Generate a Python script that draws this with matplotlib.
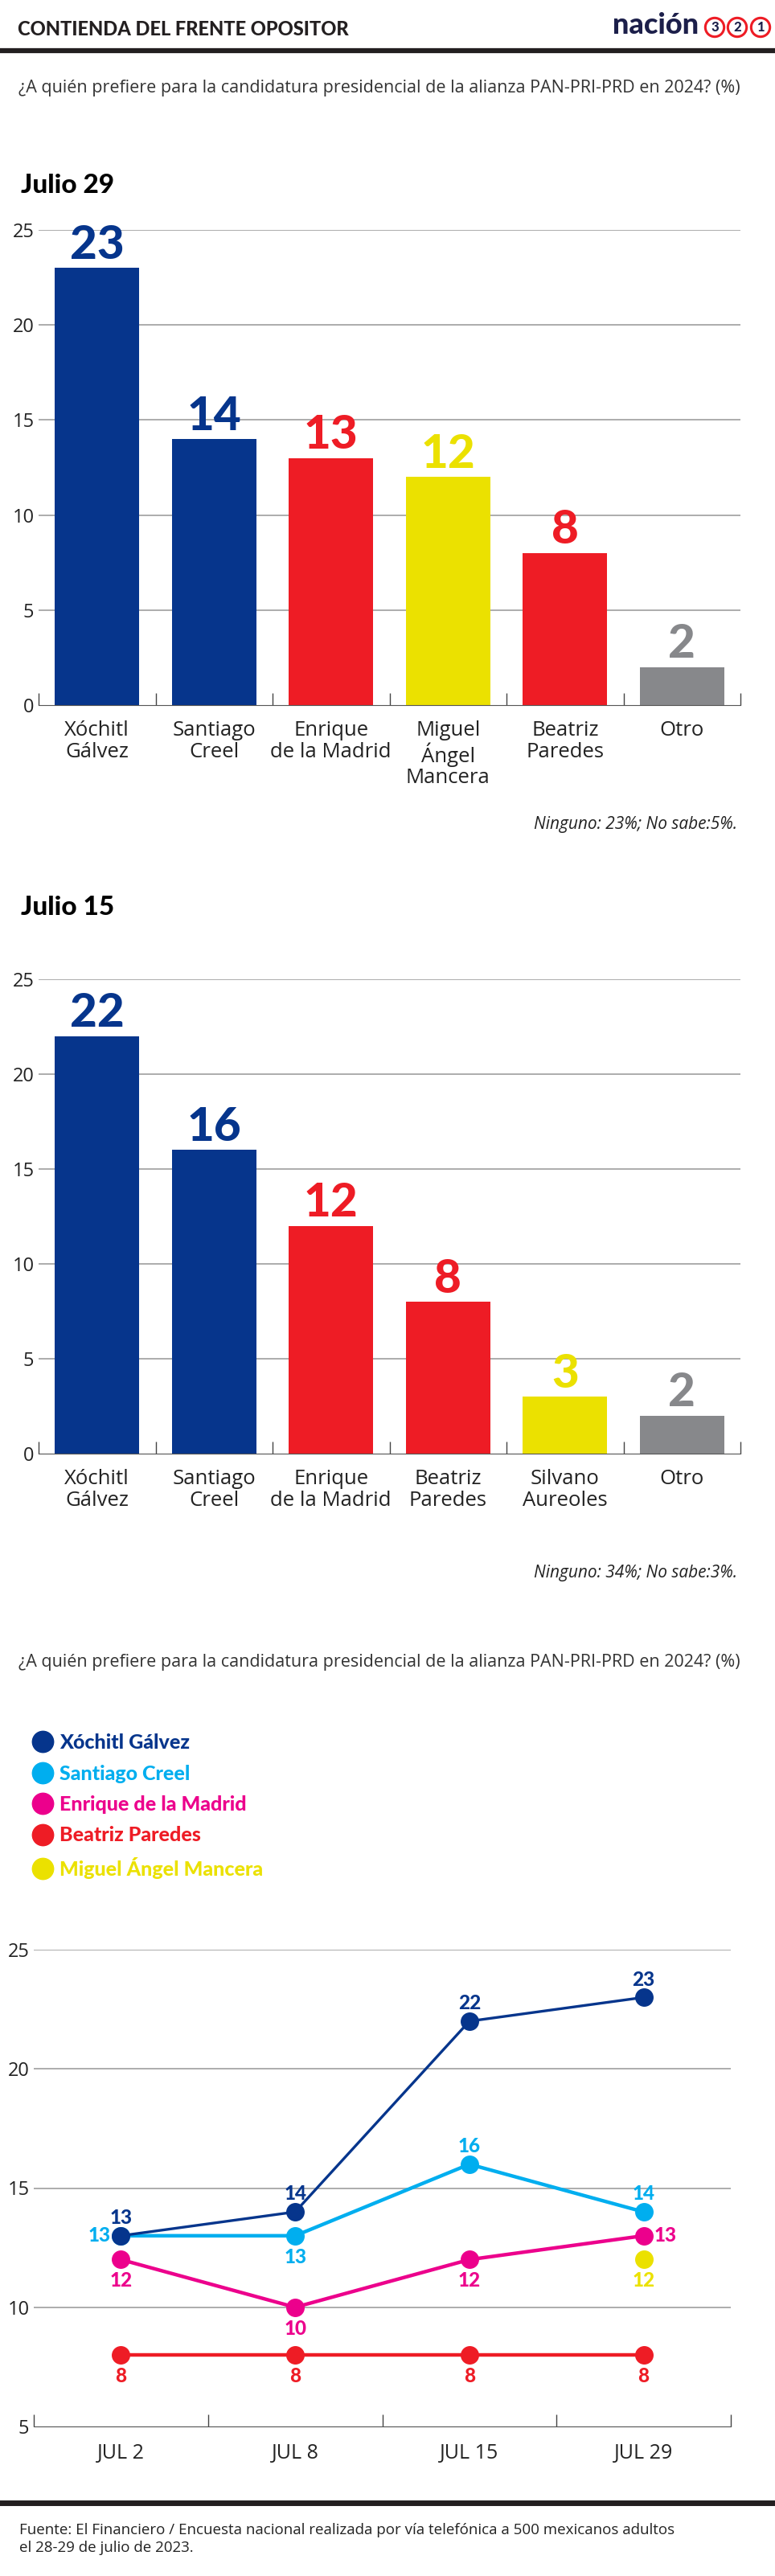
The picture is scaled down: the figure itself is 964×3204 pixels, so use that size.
import numpy as np
import matplotlib
matplotlib.use('Agg')
import matplotlib.pyplot as plt
from matplotlib.lines import Line2D
from matplotlib import font_manager

W, H = 964, 3204

NAVY = '#06358c'
RED = '#ee1c25'
YELLOW = '#ebe100'
GRAY = '#87888b'
SKY = '#00aeef'
PINK = '#ec008c'
INK = '#1c1f4a'

# --- datos ---
pregunta = '¿A quién prefiere para la candidatura presidencial de la alianza PAN-PRI-PRD en 2024? (%)'

j29_nombres = ['Xóchitl\nGálvez', 'Santiago\nCreel', 'Enrique\nde la Madrid',
               'Miguel\nÁngel\nMancera', 'Beatriz\nParedes', 'Otro']
j29_valores = [23, 14, 13, 12, 8, 2]
j29_colores = [NAVY, NAVY, RED, YELLOW, RED, GRAY]

j15_nombres = ['Xóchitl\nGálvez', 'Santiago\nCreel', 'Enrique\nde la Madrid',
               'Beatriz\nParedes', 'Silvano\nAureoles', 'Otro']
j15_valores = [22, 16, 12, 8, 3, 2]
j15_colores = [NAVY, NAVY, RED, RED, YELLOW, GRAY]

fechas = ['JUL 2', 'JUL 8', 'JUL 15', 'JUL 29']
xochitl = [13, 14, 22, 23]
creel = [13, 13, 16, 14]
madrid = [12, 10, 12, 13]
paredes = [8, 8, 8, 8]
mancera = [np.nan, np.nan, np.nan, 12]

plt.rcParams['font.family'] = ['Open Sans', 'DejaVu Sans']


# fuente más gruesa disponible para cifras y títulos
def heavy_font():
    heavy = {800, 900, 'black', 'heavy', 'extra bold', 'ultrabold'}
    for fam in ['Lato', 'Roboto', 'Inter', 'Open Sans']:
        for f in font_manager.fontManager.ttflist:
            if f.name == fam and f.weight in heavy and f.style == 'normal':
                return font_manager.FontProperties(fname=f.fname)
    return font_manager.FontProperties(family='Lato', weight='bold')


HEAVY = heavy_font()

fig = plt.figure(figsize=(W / 100, H / 100), dpi=100)


def px_box(left, top, right, bottom):
    return [left / W, 1 - bottom / H, (right - left) / W, (bottom - top) / H]


def ftext(x, y, s, **kw):
    return fig.text(x / W, 1 - y / H, s, **kw)


def heavy(size):
    fp = HEAVY.copy()
    fp.set_size(size)
    return fp


def hrule(y, lw):
    fig.add_artist(Line2D([0, 1], [1 - y / H] * 2, color='#231f20', lw=lw))


def bar_chart(top, bottom, nombres, valores, colores):
    ax = fig.add_axes(px_box(48, top, 921, bottom))
    x = np.arange(len(valores))
    ax.bar(x, valores, width=0.72, color=colores, zorder=2)
    ax.set_xlim(-0.5, len(valores) - 0.5)
    ax.set_ylim(0, 25)
    ax.set_yticks([0, 5, 10, 15, 20, 25])
    for v in [5, 10, 15, 20, 25]:
        ax.axhline(v, color='#a6a6a6', lw=1.3, zorder=1)
    ax.set_xticks(x)
    ax.set_xticklabels(nombres, fontsize=18.5, linespacing=1.08, color='#222')
    ax.set_xticks(np.arange(len(valores) + 1) - 0.5, minor=True)
    ax.tick_params(axis='x', which='major', length=0, pad=14)
    ax.tick_params(axis='x', which='minor', direction='in', length=10.5, width=1, color='#444')
    ax.tick_params(axis='y', length=0, pad=4, labelsize=17, labelcolor='#222')
    for s in ['top', 'right', 'left']:
        ax.spines[s].set_visible(False)
    ax.spines['bottom'].set_color('#555')
    for xi, v, c in zip(x, valores, colores):
        ax.annotate(str(v), (xi, v), xytext=(0, 1), textcoords='offset points',
                    ha='center', va='bottom', color=c, fontproperties=heavy(42),
                    zorder=3)
    return ax


# --- encabezado ---
ftext(22, 36, 'CONTIENDA DEL FRENTE OPOSITOR', fontproperties=heavy(17),
      color='#231f20', va='center')
ftext(762, 31, 'nación', fontproperties=heavy(26), color=INK, va='center')
for cx, d in zip([889, 917, 946], ['3', '2', '1']):
    ftext(cx, 34, d, fontproperties=heavy(12), color=INK, ha='center', va='center',
          bbox=dict(boxstyle='circle,pad=0.22', fc='white', ec=RED, lw=2.2))
hrule(63, 4.5)

ftext(23, 110, pregunta, fontsize=15.5, color='#333', va='center')

# --- Julio 29 ---
ftext(26, 230, 'Julio 29', fontproperties=heavy(24), color='black', va='center')
bar_chart(286, 877, j29_nombres, j29_valores, j29_colores)
ftext(917, 1025, 'Ninguno: 23%; No sabe:5%.', fontsize=15, style='italic',
      color='#222', ha='right', va='center')

# --- Julio 15 ---
ftext(26, 1128, 'Julio 15', fontproperties=heavy(24), color='black', va='center')
bar_chart(1218, 1808, j15_nombres, j15_valores, j15_colores)
ftext(917, 1956, 'Ninguno: 34%; No sabe:3%.', fontsize=15, style='italic',
      color='#222', ha='right', va='center')

# --- tendencia ---
ftext(23, 2067, pregunta, fontsize=15.5, color='#333', va='center')

ax = fig.add_axes(px_box(42, 2425, 909, 3018))
xs = np.arange(len(fechas))
series = [
    ('Beatriz Paredes', paredes, RED, ['below'] * 4),
    ('Enrique de la Madrid', madrid, PINK, ['below', 'below', 'below', 'right']),
    ('Santiago Creel', creel, SKY, ['left', 'below', 'above', 'above']),
    ('Xóchitl Gálvez', xochitl, NAVY, ['above'] * 4),
    ('Miguel Ángel Mancera', mancera, YELLOW, ['below'] * 4),
]
offsets = {'above': ((0, 16), 'center'), 'below': ((0, -19), 'center'),
           'left': ((-9, 0), 'right'), 'right': ((9, 0), 'left')}
for z, (nombre, vals, c, pos) in enumerate(series):
    lw = 2.4 if c == NAVY else 3.2
    ax.plot(xs, vals, color=c, lw=lw, marker='o', ms=15.5, zorder=3 + z)
    for xi, v, p in zip(xs, vals, pos):
        if np.isnan(v):
            continue
        off, ha = offsets[p]
        ax.annotate(str(v), (xi, v), xytext=off, textcoords='offset points',
                    ha=ha, va='center', color=c, fontproperties=heavy(17.5),
                    zorder=10)

ax.set_xlim(-0.5, len(fechas) - 0.5)
ax.set_ylim(5, 25)
ax.set_yticks([5, 10, 15, 20, 25])
for v in [10, 15, 20, 25]:
    ax.axhline(v, color='#a6a6a6', lw=1.3, zorder=1)
ax.set_xticks(xs)
ax.set_xticklabels(fechas, fontsize=18, color='#222')
ax.set_xticks(np.arange(len(fechas) + 1) - 0.5, minor=True)
ax.tick_params(axis='x', which='major', length=0, pad=15)
ax.tick_params(axis='x', which='minor', direction='in', length=10.5, width=1, color='#444')
ax.tick_params(axis='y', length=0, pad=4, labelsize=17, labelcolor='#222')
for s in ['top', 'right', 'left']:
    ax.spines[s].set_visible(False)
ax.spines['bottom'].set_color('#555')

ley_nombres = ['Xóchitl Gálvez', 'Santiago Creel', 'Enrique de la Madrid',
               'Beatriz Paredes', 'Miguel Ángel Mancera']
ley_colores = [NAVY, SKY, PINK, RED, YELLOW]
handles = [Line2D([], [], ls='none', marker='o', ms=19, color=c) for c in ley_colores]
fig.legend(handles, ley_nombres, loc='upper left', bbox_to_anchor=(40 / W, 1 - 2156 / H),
           frameon=False, labelcolor=ley_colores, handlelength=1.0, handletextpad=0.35,
           labelspacing=0.62, borderpad=0, borderaxespad=0, prop=heavy(18))

# --- pie ---
hrule(3113, 5)
ftext(24, 3158, 'Fuente: El Financiero / Encuesta nacional realizada por vía telefónica a 500 mexicanos adultos\n'
      'el 28-29 de julio de 2023.', fontsize=13.5, color='#222', va='center', linespacing=1.3)

fig.savefig('out.png', dpi=100)
